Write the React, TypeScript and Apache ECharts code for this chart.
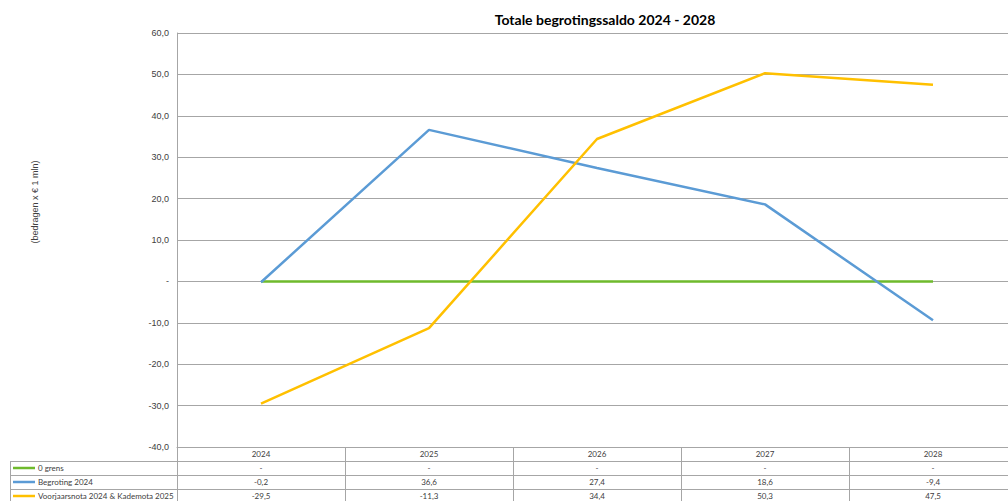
import React, { useEffect, useRef } from "react";
import * as echarts from "echarts";

const years = ["2024", "2025", "2026", "2027", "2028"];
const grens = [0, 0, 0, 0, 0];
const begroting = [-0.2, 36.6, 27.4, 18.6, -9.4];
const voorjaarsnota = [-29.5, -11.3, 34.4, 50.3, 47.5];
const seriesNames = ["0 grens", "Begroting 2024", "Voorjaarsnota 2024 & Kademota 2025"];
const seriesColors = ["#6FBA2C", "#5B9BD5", "#FFC000"];
const yTicks = { min: -40, max: 60, interval: 10 };

const fmt = (v: number, digits = 1) =>
  Math.abs(v) < 1e-9 ? "-" : v.toFixed(digits).replace(".", ",");

export default function App() {
  const ref = useRef<HTMLDivElement>(null);
  useEffect(() => {
    if (!ref.current) return;
    const chart = echarts.init(ref.current, undefined, { renderer: "svg" });
    const gridColor = "#A6A6A6";
    const rows = [grens, begroting, voorjaarsnota];
    const tableFont = "Lato";
    const rowH = 14;
    const tableTop = 447;

    const extraAxes = rows.map((arr, i) => ({
      type: "category",
      data: years,
      gridIndex: 0,
      position: "bottom",
      offset: rowH * (i + 1),
      boundaryGap: true,
      axisLine: { show: false, onZero: false },
      axisTick: { show: false },
      axisLabel: {
        interval: 0,
        fontSize: 8,
        fontFamily: tableFont,
        color: "#404040",
        margin: 3,
        formatter: (_v: string, idx: number) => fmt(arr[idx]),
      },
    }));

    const graphics: any[] = [
      {
        type: "text",
        x: 605,
        y: 19,
        style: {
          text: "Totale begrotingssaldo 2024 - 2028",
          font: "bold 14px Lato",
          fill: "#000",
          textAlign: "center",
          textVerticalAlign: "middle",
        },
      },
      {
        type: "text",
        x: 35,
        y: 202,
        rotation: Math.PI / 2,
        style: {
          text: "(bedragen x € 1 mln)",
          font: "9px 'Liberation Sans'",
          fill: "#404040",
          textAlign: "center",
          textVerticalAlign: "middle",
        },
      },
      {
        type: "line",
        shape: { x1: 10.5, y1: tableTop + rowH, x2: 10.5, y2: 501 },
        style: { stroke: gridColor, lineWidth: 1 },
      },
    ];
    rows.forEach((_r, i) => {
      const y = tableTop + rowH * (i + 1);
      graphics.push({
        type: "line",
        shape: { x1: 10, y1: y + 0.5, x2: 1017, y2: y + 0.5 },
        style: { stroke: gridColor, lineWidth: 1 },
      });
      const cy = y + rowH / 2;
      graphics.push({
        type: "line",
        shape: { x1: 13, y1: cy, x2: 35, y2: cy },
        style: { stroke: seriesColors[i], lineWidth: 2.5 },
      });
      graphics.push({
        type: "text",
        x: 38,
        y: cy,
        style: {
          text: seriesNames[i],
          font: `8px ${tableFont}`,
          fill: "#404040",
          textAlign: "left",
          textVerticalAlign: "middle",
        },
      });
    });

    chart.setOption({
      animation: false,
      backgroundColor: "#fff",
      grid: { left: 177, right: 3, top: 33, bottom: 54, containLabel: false },
      xAxis: [
        {
          type: "category",
          data: years,
          position: "bottom",
          boundaryGap: true,
          axisLine: { show: true, onZero: false, lineStyle: { color: gridColor, width: 1 } },
          axisTick: {
            show: true,
            length: 54,
            alignWithLabel: false,
            lineStyle: { color: gridColor, width: 1 },
          },
          axisLabel: {
            interval: 0,
            fontSize: 8,
            fontFamily: tableFont,
            color: "#404040",
            margin: 3,
          },
          splitLine: { show: false },
        },
        ...extraAxes,
      ],
      yAxis: {
        type: "value",
        min: yTicks.min,
        max: yTicks.max,
        interval: yTicks.interval,
        axisLine: { show: true, lineStyle: { color: gridColor, width: 1 } },
        axisTick: { show: false },
        axisLabel: {
          fontSize: 9,
          fontFamily: "Liberation Sans",
          color: "#404040",
          margin: 8,
          formatter: (v: number) => fmt(v),
        },
        splitLine: { show: true, lineStyle: { color: gridColor, width: 1 } },
      },
      series: [grens, begroting, voorjaarsnota].map((d, i) => ({
        type: "line",
        name: seriesNames[i],
        data: d,
        xAxisIndex: 0,
        symbol: "none",
        lineStyle: { color: seriesColors[i], width: 2.5 },
        itemStyle: { color: seriesColors[i] },
      })),
      graphic: graphics,
    });
    return () => chart.dispose();
  }, []);
  return (
    <div
      style={{
        position: "fixed",
        left: 0,
        top: 0,
        width: 1008,
        height: 501,
        overflow: "hidden",
      }}
    >
      <div ref={ref} style={{ width: 1020, height: 501 }} />
    </div>
  );
}
